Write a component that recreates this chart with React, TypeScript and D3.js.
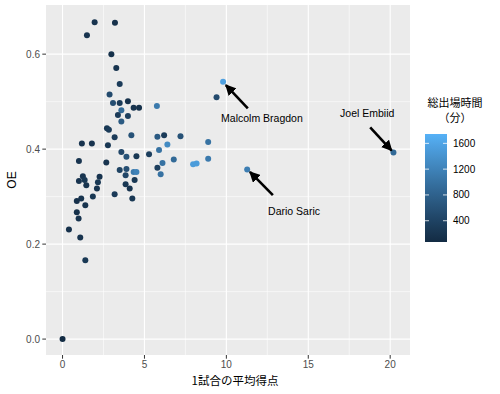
import React from 'react';
import * as d3 from 'd3';

// 1試合の平均得点
const ppg = [
  0, 1.96, 3.2, 1.49, 2.98, 3.28, 3.49, 2.87, 3.08, 3.49, 3.99, 3.59, 4.34, 4.67, 5.76,
  3.38, 3.99, 3.59, 2.71, 2.83, 3.18, 4.2, 5.79, 6.2, 6.4, 7.2, 8.89, 1.18, 1.79, 2.77,
  3.59, 3.9, 4.51, 5.28, 5.89, 1.0, 2.67, 3.49, 3.9, 4.34, 4.51, 5.79, 6.1, 6.79, 5.99,
  7.97, 8.18, 8.89, 9.4, 9.8, 11.27, 20.2, 1.24, 1.0, 1.35, 1.45, 2.26, 2.16, 2.1, 3.85,
  3.85, 4.1, 4.4, 3.18, 4.26, 1.14, 0.87, 1.39, 1.85, 0.87, 0.98, 0.39, 1.08, 1.39,
];
// OE
const oe = [
  0, 0.667, 0.666, 0.64, 0.6, 0.571, 0.537, 0.515, 0.497, 0.497, 0.501, 0.482, 0.487, 0.487, 0.491,
  0.472, 0.47, 0.458, 0.444, 0.441, 0.425, 0.429, 0.426, 0.429, 0.41, 0.427, 0.415, 0.412, 0.412, 0.408,
  0.394, 0.384, 0.385, 0.389, 0.398, 0.375, 0.372, 0.356, 0.358, 0.352, 0.352, 0.361, 0.371, 0.378, 0.347,
  0.368, 0.37, 0.38, 0.509, 0.542, 0.357, 0.393, 0.343, 0.333, 0.335, 0.324, 0.342, 0.33, 0.317, 0.345,
  0.326, 0.317, 0.335, 0.305, 0.296, 0.296, 0.291, 0.282, 0.3, 0.267, 0.254, 0.231, 0.214, 0.166,
];
// 総出場時間（分）
const minutes = [
  80, 200, 150, 200, 150, 200, 300, 500, 550, 300, 150, 900, 200, 150, 1100,
  300, 350, 700, 250, 300, 300, 600, 700, 300, 1300, 600, 1000, 200, 200, 250,
  450, 600, 250, 350, 1000, 200, 200, 400, 550, 1100, 1200, 350, 1000, 900, 1000,
  1500, 1500, 1100, 500, 1550, 1150, 900, 200, 200, 250, 200, 200, 250, 200, 450,
  250, 200, 250, 300, 250, 200, 150, 200, 250, 150, 200, 150, 200, 250,
];

const xTicks = [0, 5, 10, 15, 20];
const xMinor = [2.5, 7.5, 12.5, 17.5];
const yTicks = [0, 0.2, 0.4, 0.6];
const yMinor = [0.1, 0.3, 0.5];
const legendTicks = [400, 800, 1200, 1600];

const labelNames = ['Malcolm Bragdon', 'Dario Saric', 'Joel Embiid'];
const labelPos = [[12.17, 0.465], [14.13, 0.269], [18.6, 0.476]];
const arrowFrom = [[11.31, 0.486], [12.84, 0.303], [18.78, 0.446]];
const arrowTo = [[9.97, 0.535], [11.44, 0.352], [20.09, 0.397]];

const W = 500;
const H = 394;
const panel = { left: 46, right: 410, top: 5, bottom: 355 };
const font = '"Liberation Sans", Arial, "Noto Sans CJK JP", sans-serif';
const jpFont = '"Noto Sans CJK JP", "Liberation Sans", sans-serif';

const App = () => {
  const x = d3.scaleLinear().domain([-1.01, 21.21]).range([panel.left, panel.right]);
  const y = d3.scaleLinear().domain([-0.0335, 0.7035]).range([panel.bottom, panel.top]);
  const minMin = 70;
  const maxMin = 1745;
  const color = d3.scaleLinear<string>()
    .domain([minMin, maxMin])
    .range(['#132B43', '#56B1F7'])
    .interpolate(d3.interpolateLab);

  const bar = { left: 425, width: 22, top: 134, bottom: 242 };
  const barScale = d3.scaleLinear().domain([minMin, maxMin]).range([bar.bottom, bar.top]);
  const stops = d3.range(0, 21).map((i) => i / 20);

  return (
    <svg width={W} height={H} style={{ position: 'absolute', left: 0, top: 0, background: '#fff' }}>
      <defs>
        <linearGradient id="cbar" x1="0" y1="1" x2="0" y2="0">
          {stops.map((t) => (
            <stop key={t} offset={t} stopColor={color(minMin + t * (maxMin - minMin))} />
          ))}
        </linearGradient>
        <marker id="arrowhead" viewBox="0 0 10 10" refX="9" refY="5" markerWidth="4.2" markerHeight="4.2" orient="auto">
          <path d="M0,0 L10,5 L0,10 z" fill="#000" />
        </marker>
      </defs>

      <rect x={panel.left} y={panel.top} width={panel.right - panel.left} height={panel.bottom - panel.top} fill="#EBEBEB" />
      {xMinor.map((v) => (
        <line key={'xm' + v} x1={x(v)} x2={x(v)} y1={panel.top} y2={panel.bottom} stroke="#fff" strokeWidth={0.55} />
      ))}
      {yMinor.map((v) => (
        <line key={'ym' + v} y1={y(v)} y2={y(v)} x1={panel.left} x2={panel.right} stroke="#fff" strokeWidth={0.55} />
      ))}
      {xTicks.map((v) => (
        <line key={'xM' + v} x1={x(v)} x2={x(v)} y1={panel.top} y2={panel.bottom} stroke="#fff" strokeWidth={1.1} />
      ))}
      {yTicks.map((v) => (
        <line key={'yM' + v} y1={y(v)} y2={y(v)} x1={panel.left} x2={panel.right} stroke="#fff" strokeWidth={1.1} />
      ))}

      {ppg.map((v, i) => (
        <circle key={'p' + i} cx={x(v)} cy={y(oe[i])} r={3} fill={color(minutes[i])} />
      ))}

      {labelNames.map((name, i) => (
        <g key={name}>
          <line
            x1={x(arrowFrom[i][0])}
            y1={y(arrowFrom[i][1])}
            x2={x(arrowTo[i][0])}
            y2={y(arrowTo[i][1])}
            stroke="#000"
            strokeWidth={2.6}
            markerEnd="url(#arrowhead)"
          />
          <text x={x(labelPos[i][0])} y={y(labelPos[i][1])} dy="0.35em" textAnchor="middle" fontFamily={font} fontSize={10.5} fill="#000">
            {name}
          </text>
        </g>
      ))}

      {xTicks.map((v) => (
        <g key={'xt' + v}>
          <line x1={x(v)} x2={x(v)} y1={panel.bottom} y2={panel.bottom + 3.7} stroke="#333" strokeWidth={1} />
          <text x={x(v)} y={panel.bottom + 13} textAnchor="middle" fontFamily={font} fontSize={10} fill="#4D4D4D">
            {v}
          </text>
        </g>
      ))}
      {yTicks.map((v) => (
        <g key={'yt' + v}>
          <line x1={panel.left - 3.7} x2={panel.left} y1={y(v)} y2={y(v)} stroke="#333" strokeWidth={1} />
          <text x={panel.left - 6} y={y(v)} dy="0.35em" textAnchor="end" fontFamily={font} fontSize={10} fill="#4D4D4D">
            {d3.format('.1f')(v)}
          </text>
        </g>
      ))}

      <text x={235} y={385} textAnchor="middle" fontFamily={jpFont} fontSize={11.5} fill="#000">
        1試合の平均得点
      </text>
      <text transform={`translate(16,${(panel.top + panel.bottom) / 2}) rotate(-90)`} textAnchor="middle" fontFamily={font} fontSize={12} fill="#000">
        OE
      </text>

      <text x={455} y={107} textAnchor="middle" fontFamily={jpFont} fontSize={11} fill="#000">
        総出場時間
      </text>
      <text x={455} y={122} textAnchor="middle" fontFamily={jpFont} fontSize={11} fill="#000">
        （分）
      </text>
      <rect x={bar.left} y={bar.top} width={bar.width} height={bar.bottom - bar.top} fill="url(#cbar)" />
      {legendTicks.map((v) => (
        <g key={'lt' + v}>
          <line x1={bar.left} x2={bar.left + 4} y1={barScale(v)} y2={barScale(v)} stroke="#fff" strokeWidth={0.8} />
          <line x1={bar.left + bar.width - 4} x2={bar.left + bar.width} y1={barScale(v)} y2={barScale(v)} stroke="#fff" strokeWidth={0.8} />
          <text x={bar.left + bar.width + 6} y={barScale(v)} dy="0.35em" fontFamily={font} fontSize={10} fill="#000">
            {v}
          </text>
        </g>
      ))}
    </svg>
  );
};

export default App;
